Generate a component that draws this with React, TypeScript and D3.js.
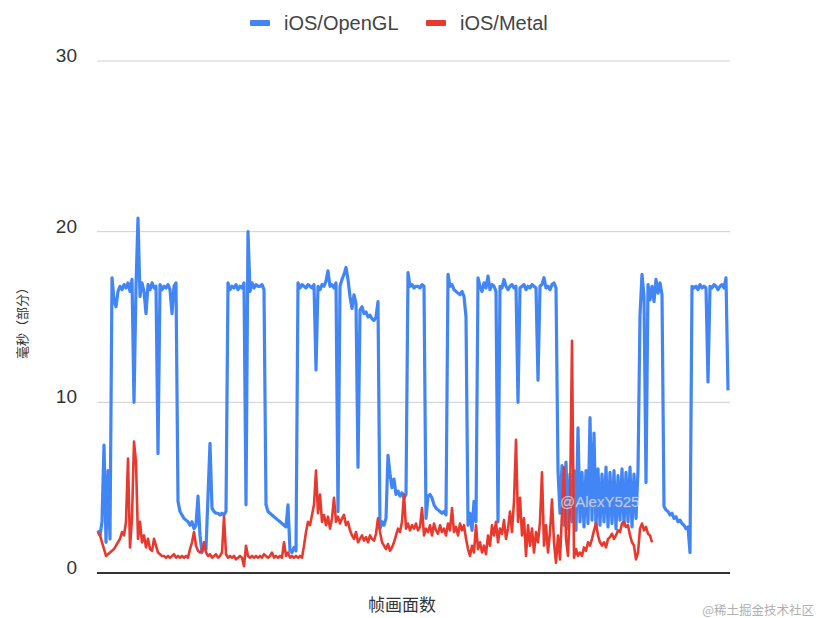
import React from "react";
import * as d3 from "d3";

const seriesNames = ["iOS/OpenGL", "iOS/Metal"];
const yTicks = [0, 10, 20, 30];

// frame-time samples (ms), one per sampled frame
const openglMs = [
  2.5, 2.2, 3.0, 7.5, 1.8, 6.0, 2.0, 17.3, 16.0, 15.6, 16.5, 16.8, 16.6, 16.9, 16.7, 17.0,
  16.5, 17.2, 10.0, 16.8, 20.8, 16.2, 17.0, 16.5, 15.2, 16.9, 16.6, 17.0, 16.7, 16.8, 7.0, 16.9,
  16.6, 16.8, 16.7, 16.9, 16.6, 15.2, 16.8, 17.0, 4.2, 3.6, 3.4, 3.2, 3.1, 3.0, 2.8, 3.0,
  2.6, 2.8, 4.5, 2.2, 1.2, 1.5, 1.4, 4.5, 7.6, 3.8, 3.6, 3.5, 3.5, 3.4, 3.5, 3.4,
  3.6, 17.0, 16.6, 16.8, 16.7, 16.9, 16.6, 16.8, 16.7, 17.0, 4.0, 20.0, 16.5, 17.0, 16.7, 16.9,
  16.8, 16.8, 16.9, 16.6, 4.0, 3.6, 3.5, 3.4, 3.3, 3.2, 3.1, 3.0, 2.9, 2.8, 2.7, 4.0,
  1.3, 1.2, 1.5, 1.3, 17.0, 16.7, 16.9, 16.8, 16.7, 16.9, 16.8, 16.7, 16.9, 11.9, 16.8, 16.6,
  16.9, 16.8, 17.1, 17.7, 16.8, 16.9, 16.7, 17.0, 3.6, 16.8, 17.2, 17.5, 17.9, 17.2, 16.2, 15.5,
  16.3, 15.8, 6.2, 15.4, 15.6, 15.2, 15.3, 15.0, 15.1, 14.9, 14.8, 15.0, 15.9, 2.6, 3.0, 2.8,
  3.2, 6.9, 5.8, 5.0, 5.5, 4.6, 4.8, 4.5, 4.7, 4.4, 4.6, 17.6, 16.8, 16.9, 16.7, 16.8,
  16.8, 16.7, 16.9, 16.8, 3.2, 4.5, 4.6, 4.4, 4.0, 3.8, 3.7, 3.6, 3.5, 3.6, 3.4, 17.5,
  16.8, 16.9, 16.6, 16.5, 16.4, 16.3, 16.5, 16.2, 15.0, 2.8, 3.5, 2.5, 4.2, 3.0, 17.3, 16.8,
  16.5, 17.0, 16.7, 17.4, 16.6, 16.9, 16.8, 16.5, 3.0, 16.8, 16.7, 17.2, 16.8, 16.6, 16.8, 16.9,
  16.7, 16.8, 10.0, 16.7, 16.8, 16.9, 16.6, 16.8, 16.7, 16.9, 16.8, 16.7, 11.3, 16.8, 16.9, 17.3,
  16.7, 16.8, 16.6, 16.9, 17.0, 16.7, 6.0, 3.5, 6.3, 2.8, 6.5, 2.6, 5.8, 3.0, 6.0, 2.5,
  8.5, 3.0, 5.9, 2.7, 6.0, 2.9, 9.1, 3.1, 8.2, 2.6, 6.1, 2.8, 5.8, 3.0, 6.2, 2.7,
  5.9, 2.9, 6.0, 2.6, 5.7, 3.1, 6.1, 2.8, 5.9, 3.0, 6.2, 2.7, 5.8, 3.2, 6.0, 15.1,
  17.5, 16.2, 5.3, 16.9, 16.0, 16.8, 15.9, 17.2, 16.4, 17.0, 16.3, 3.9, 3.7, 3.6, 3.4, 3.5,
  3.2, 3.3, 3.0, 3.1, 2.9, 2.8, 2.6, 2.7, 1.2, 16.8, 16.7, 16.8, 16.6, 16.9, 16.7, 16.8,
  16.7, 11.2, 16.8, 16.7, 16.9, 16.8, 16.6, 16.8, 16.9, 16.7, 17.3, 10.7,
];

const metalMs = [
  2.4, 2.2, 1.8, 1.4, 1.0, 1.1, 1.2, 1.3, 1.4, 1.6, 1.8, 2.0, 2.4, 2.2, 3.0, 6.7,
  1.5, 3.2, 7.7, 6.5, 2.0, 3.0, 1.8, 2.2, 1.5, 2.0, 1.4, 1.3, 2.0, 1.6, 1.2, 1.1,
  1.0, 1.0, 0.9, 1.0, 0.9, 1.0, 1.1, 0.9, 1.0, 0.9, 1.0, 0.9, 1.0, 0.9, 1.4, 1.8,
  2.4, 1.6, 1.3, 1.2, 1.3, 1.8, 1.2, 1.0, 1.1, 0.9, 1.0, 1.1, 0.9, 1.0, 1.2, 3.3,
  1.1, 0.9, 1.0, 0.9, 1.0, 0.8, 0.9, 1.0, 0.9, 0.4, 1.6, 1.0, 0.9, 1.0, 0.9, 1.0,
  0.9, 1.0, 0.9, 1.1, 1.0, 0.9, 1.0, 1.2, 0.9, 1.0, 0.9, 1.0, 0.9, 1.8, 1.0, 1.2,
  0.9, 1.0, 0.9, 1.0, 0.9, 1.0, 0.9, 1.6, 2.4, 3.0, 2.8, 3.4, 4.0, 6.0, 3.5, 4.6,
  3.0, 3.4, 2.8, 3.3, 2.6, 3.2, 4.4, 3.0, 3.3, 2.9, 3.2, 3.4, 2.8, 3.0, 2.5, 2.2,
  2.0, 2.4, 1.8, 2.0, 2.2, 1.9, 2.1, 1.8, 2.2, 2.0, 1.9, 2.3, 3.2, 2.4, 1.8, 1.6,
  1.4, 1.7, 1.3, 1.5, 1.8, 2.2, 2.6, 2.4, 3.0, 4.6, 2.6, 2.9, 2.5, 2.8, 2.6, 2.9,
  2.5, 2.7, 3.8, 2.2, 2.6, 2.4, 2.8, 2.2, 2.9, 2.5, 2.3, 2.8, 2.4, 2.6, 2.2, 2.9,
  2.5, 3.8, 2.4, 2.7, 2.2, 2.9, 2.5, 2.8, 2.0, 1.4, 1.0, 1.6, 1.2, 2.8, 1.4, 1.8,
  1.2, 1.6, 1.1, 2.2, 1.6, 2.8, 2.2, 3.0, 1.8, 2.6, 2.3, 3.1, 2.0, 2.6, 3.6, 2.4,
  4.2, 7.8, 3.0, 4.4, 2.2, 3.2, 1.0, 2.8, 1.6, 2.6, 1.2, 2.4, 1.8, 3.0, 5.9, 1.6,
  2.8, 1.2, 2.4, 4.3, 1.8, 0.6, 2.2, 0.8, 3.5, 6.2, 2.0, 1.0, 4.0, 13.6, 0.9, 1.4,
  1.0, 1.2, 1.0, 1.5, 1.3, 1.8, 1.6, 2.0, 2.5, 2.9, 2.2, 1.8, 1.6, 1.8, 1.5, 2.0,
  2.1, 2.3, 2.0, 2.2, 2.5, 2.4, 2.9, 3.0, 2.7, 2.8, 2.2, 1.8, 1.6, 0.8, 1.2, 2.6,
  2.9, 2.5, 2.7, 2.3, 2.2, 1.8,
];

const colors = ["#4285f4", "#e8392f"];

export default function App() {
  const W = 822;
  const H = 618;
  const left = 97;
  const right = 730;
  const top = 61;
  const bottom = 573;

  const x = d3.scaleLinear().domain([0, 316]).range([98, 730]);
  const y = d3.scaleLinear().domain([0, 30]).range([bottom, top]);

  const line = d3
    .line<number>()
    .x((_, i) => x(i))
    .y((d) => y(d));

  const font = "Arial, 'Liberation Sans', sans-serif";
  const cjk = "'Noto Sans CJK SC', sans-serif";

  return (
    <svg
      width={W}
      height={H}
      style={{ position: "absolute", left: 0, top: 0, background: "#fff" }}
    >
      <rect x={0} y={0} width={W} height={H} fill="#fff" />
      {yTicks.map((t) => (
        <g key={t}>
          {t !== 0 && (
            <line x1={left} x2={right} y1={y(t)} y2={y(t)} stroke="#cfcfcf" strokeWidth={1} />
          )}
          <text
            x={77}
            y={y(t) + 1}
            textAnchor="end"
            fontFamily={font}
            fontSize={19}
            fill="#333"
          >
            {t}
          </text>
        </g>
      ))}

      <path d={line(openglMs) || ""} fill="none" stroke={colors[0]} strokeWidth={3.2} strokeLinejoin="round" />
      <path d={line(metalMs) || ""} fill="none" stroke={colors[1]} strokeWidth={2.6} strokeLinejoin="round" />

      <line x1={left} x2={right} y1={bottom} y2={bottom} stroke="#333" strokeWidth={2} />

      {/* legend */}
      <rect x={250} y={20} width={20} height={6} fill={colors[0]} rx={1} />
      <text x={284} y={30} fontFamily={font} fontSize={20} fill="#444">
        {seriesNames[0]}
      </text>
      <rect x={426} y={20} width={20} height={6} fill={colors[1]} rx={1} />
      <text x={460} y={30} fontFamily={font} fontSize={20} fill="#444">
        {seriesNames[1]}
      </text>

      {/* axis titles */}
      <text
        transform={`translate(27, 320) rotate(-90)`}
        textAnchor="middle"
        fontFamily={cjk}
        fontSize={13}
        fill="#333"
      >
        毫秒（部分）
      </text>
      <text x={402} y={611} textAnchor="middle" fontFamily={cjk} fontSize={17} fill="#333">
        帧画面数
      </text>

      {/* watermarks */}
      <text
        x={560}
        y={507}
        fontFamily={font}
        fontSize={15}
        fill="#e8e8ee"
        fillOpacity={0.75}
        stroke="#b8b8c8"
        strokeWidth={0.4}
        strokeOpacity={0.6}
      >
        @AlexY525
      </text>
      <text x={814} y={615} textAnchor="end" fontFamily={cjk} fontSize={12.5} fill="#b0b0b0">
        @稀土掘金技术社区
      </text>
    </svg>
  );
}
